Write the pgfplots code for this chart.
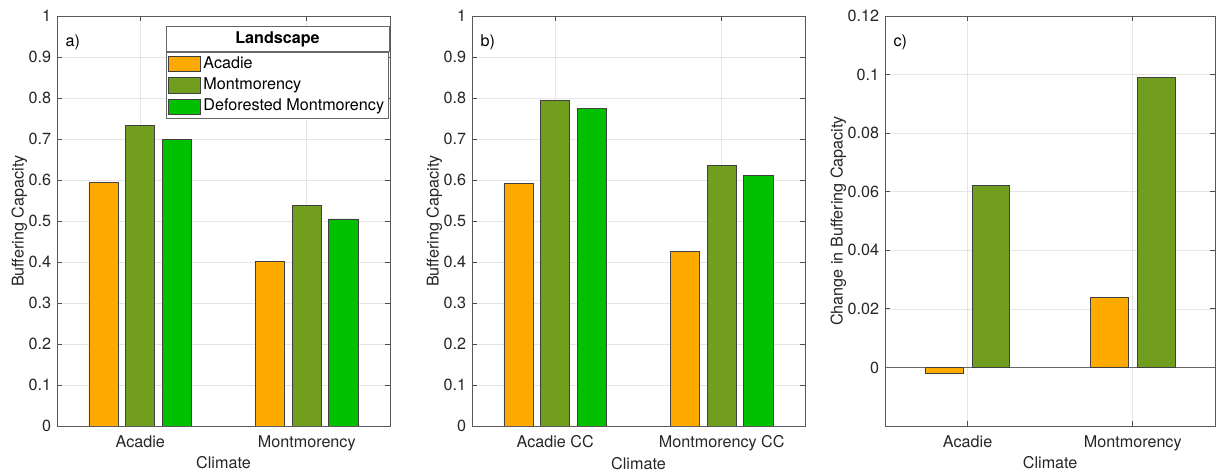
\documentclass[border=0pt]{standalone}
\usepackage{pgfplots}
\pgfplotsset{compat=1.18}
\usepackage{fontspec}
\setmainfont{TeX Gyre Heros}
\definecolor{cA}{RGB}{255,170,0}
\definecolor{cM}{RGB}{114,158,32}
\definecolor{cD}{RGB}{0,192,0}
\definecolor{axgray}{RGB}{38,38,38}
\newcommand{\fs}{\fontsize{9.7}{11}\selectfont}
\pgfplotsset{
 mystyle/.style={
  scale only axis, width=199.8pt, height=246pt,
  ybar, bar width=0.176,
  xmin=0.5, xmax=2.5, xtick={1,2},
  tick align=inside, major tick length=3pt,
  grid=major, major grid style={black!10, line width=0.4pt},
  axis line style={black!65, line width=0.5pt},
  tick style={black!70, line width=0.5pt},
  every tick label/.append style={text=axgray, font=\fs},
  xticklabel style={yshift=-2.4pt},
  label style={text=axgray, font=\fs},
  ylabel shift=-6pt,
  xlabel shift=-3.5pt,
  /pgf/number format/assume math mode=true,
  /pgf/number format/fixed,
  scaled y ticks=false,
  xlabel={Climate},
  anchor=south west,
 },
 legimg/.style={legend image code/.code={\draw[##1] (0pt,-4.6pt) rectangle (19pt,4.6pt);}},
 barA/.style={fill=cA, draw=black!75, line width=0.5pt, legimg},
 barM/.style={fill=cM, draw=black!75, line width=0.5pt, legimg},
 barD/.style={fill=cD, draw=black!75, line width=0.5pt, legimg},
}
\begin{document}
\begin{tikzpicture}
\useasboundingbox (0,0) rectangle (729.6pt,283.2pt);
% panel a
\begin{axis}[mystyle, at={(34.2pt,27.6pt)},
  ymin=0, ymax=1, ytick={0,0.1,0.2,0.3,0.4,0.5,0.6,0.7,0.8,0.9,1},
  xticklabels={Acadie,Montmorency},
  ylabel={Buffering Capacity},
  legend cell align=left,
  legend style={name=legA, at={(rel axis cs:0.997,0.913)}, anchor=north east,
    draw=black!60, line width=0.5pt, font=\fs, text=black,
    inner xsep=1.2pt, inner ysep=1pt, row sep=0.4pt,
    nodes={inner sep=1.5pt, text height=7.2pt, text depth=2.2pt}},
]
\addplot[barA, bar shift=-0.22] coordinates {(1,0.593) (2,0.402)};
\addlegendentry{Acadie}
\addplot[barM, bar shift=0] coordinates {(1,0.732) (2,0.537)};
\addlegendentry{Montmorency}
\addplot[barD, bar shift=0.22] coordinates {(1,0.698) (2,0.505)};
\addlegendentry{Deforested Montmorency}
\node[anchor=west, font=\fs, text=black] at (rel axis cs:0.008,0.937) {a)};
\end{axis}
\draw[black!60, line width=0.5pt, fill=white] (legA.north west) rectangle ([yshift=15pt]legA.north east);
\node[font=\fs\bfseries, text=black] at ([yshift=7.5pt]legA.north) {Landscape};
% panel b
\begin{axis}[mystyle, at={(283.2pt,27.6pt)},
  ymin=0, ymax=1, ytick={0,0.1,0.2,0.3,0.4,0.5,0.6,0.7,0.8,0.9,1},
  xticklabels={Acadie CC,Montmorency CC},
  ylabel={Buffering Capacity},
]
\addplot[barA, bar shift=-0.22] coordinates {(1,0.592) (2,0.425)};
\addplot[barM, bar shift=0] coordinates {(1,0.793) (2,0.635)};
\addplot[barD, bar shift=0.22] coordinates {(1,0.775) (2,0.612)};
\node[anchor=west, font=\fs, text=black] at (rel axis cs:0.008,0.937) {b)};
\end{axis}
% panel c
\begin{axis}[mystyle, at={(531pt,27.6pt)}, width=198.2pt, bar width=0.228,
  ymin=-0.02, ymax=0.12, ytick={0,0.02,0.04,0.06,0.08,0.1,0.12},
  xticklabels={Acadie,Montmorency},
  ylabel={Change in Buffering Capacity},
]
\addplot[black!60, line width=0.5pt, sharp plot, forget plot] coordinates {(0.5,0) (2.5,0)};
\addplot[barA, bar shift=-0.142] coordinates {(1,-0.002) (2,0.024)};
\addplot[barM, bar shift=0.142] coordinates {(1,0.062) (2,0.099)};
\node[anchor=west, font=\fs, text=black] at (rel axis cs:0.008,0.937) {c)};
\end{axis}
\end{tikzpicture}
\end{document}
